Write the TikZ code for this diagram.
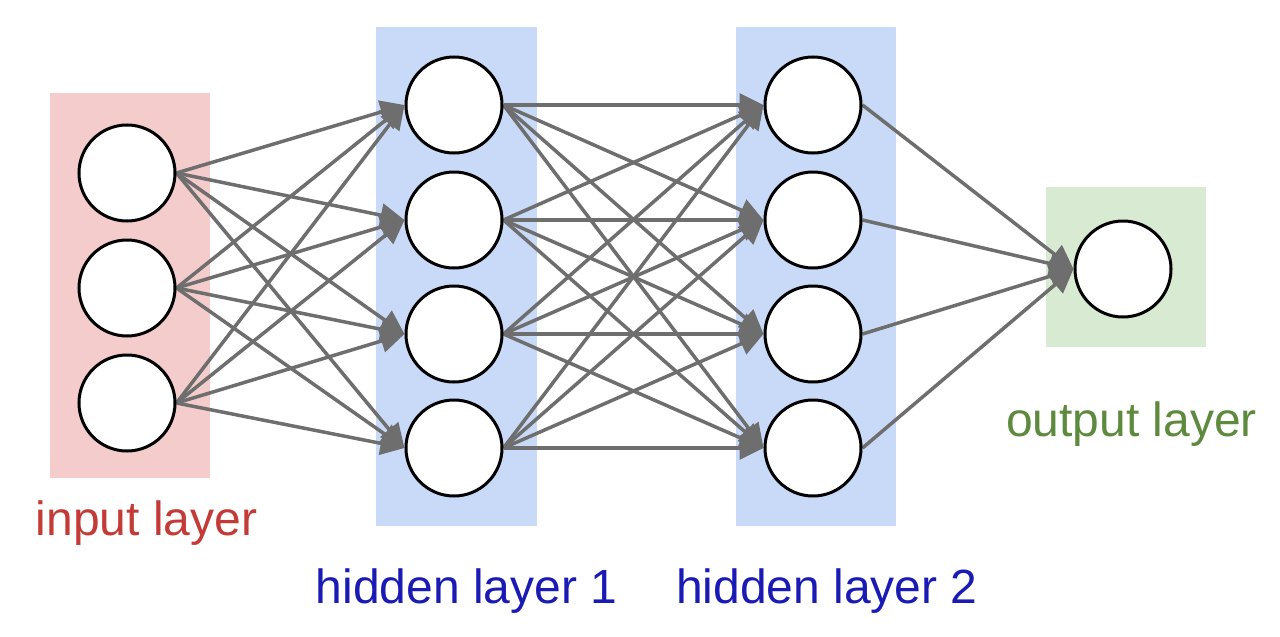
\documentclass[tikz,border=0pt]{standalone}
\usepackage{fontspec}
\setmainfont{Liberation Sans}
\usetikzlibrary{arrows.meta}
\definecolor{inbg}{HTML}{F4CCCC}
\definecolor{hidbg}{HTML}{C9DAF8}
\definecolor{outbg}{HTML}{D9EAD3}
\definecolor{inlab}{HTML}{C43A36}
\definecolor{hidlab}{HTML}{1A1AB4}
\definecolor{outlab}{HTML}{5E8A3E}
\definecolor{edgegray}{HTML}{6E6E6E}
\pgfdeclarelayer{bg}
\pgfdeclarelayer{edges}
\pgfsetlayers{bg,edges,main}
\tikzset{
  neuron/.style={circle, draw=black, line width=3pt, fill=white, minimum size=96pt, inner sep=0pt},
  conn/.style={draw=edgegray, line width=3.5pt, -{Triangle[length=24pt,width=23pt]}},
  lab/.style={anchor=base, inner sep=0pt, font=\fontsize{48}{58}\selectfont}
}
\begin{document}
\begin{tikzpicture}[x=1pt,y=-1pt]
\useasboundingbox (0,0) rectangle (1280,637);
% backgrounds
\begin{pgfonlayer}{bg}
\fill[inbg] (50,93) rectangle (210,478);
\fill[hidbg] (376,27) rectangle (537,526);
\fill[hidbg] (736,27) rectangle (896,526);
\fill[outbg] (1046,187) rectangle (1206,347);
\end{pgfonlayer}
% neurons
\foreach \i/\y in {1/173,2/288,3/403} \node[neuron] (i\i) at (127,\y) {};
\foreach \i/\y in {1/105,2/220,3/334,4/448} \node[neuron] (a\i) at (454,\y) {};
\foreach \i/\y in {1/105,2/220,3/334,4/448} \node[neuron] (b\i) at (813,\y) {};
\node[neuron] (o) at (1123,269) {};
% connectors
\begin{pgfonlayer}{edges}
\foreach \s in {1,2,3} \foreach \t in {1,2,3,4} \draw[conn] (i\s.east) -- (a\t.west);
\foreach \s in {1,2,3,4} \foreach \t in {1,2,3,4} \draw[conn] (a\s.east) -- (b\t.west);
\foreach \s in {1,2,3,4} \draw[conn] (b\s.east) -- (o.west);
\end{pgfonlayer}
% labels
\node[lab, text=inlab] (linput) at (146.5,535) {input layer};
\node[lab, text=hidlab] (lh1) at (466.5,603) {hidden layer 1};
\node[lab, text=hidlab] (lh2) at (827,603) {hidden layer 2};
\node[lab, text=outlab] (lout) at (1131.5,436) {output layer};
\end{tikzpicture}
\end{document}
